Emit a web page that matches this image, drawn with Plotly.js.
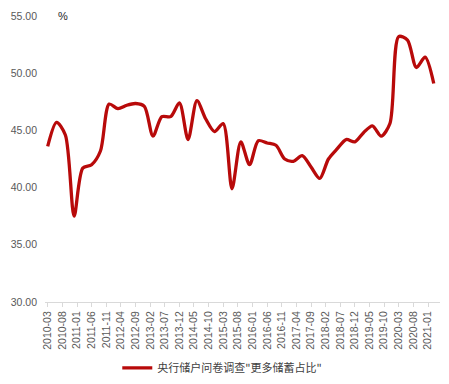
<!DOCTYPE html>
<html>
<head>
<meta charset="utf-8">
<script src="https://cdn.plot.ly/plotly-3.0.1.min.js"></script>
<style>html,body{margin:0;padding:0;background:#fff;}#chart{width:449px;height:384px;}</style>
</head>
<body>
<div id="chart"></div>
<script>
// Quarterly survey dates (end-of-quarter months)
const quarters = [
  "2010-03","2010-06","2010-09","2010-12",
  "2011-03","2011-06","2011-09","2011-12",
  "2012-03","2012-06","2012-09","2012-12",
  "2013-03","2013-06","2013-09","2013-12",
  "2014-03","2014-06","2014-09","2014-12",
  "2015-03","2015-06","2015-09","2015-12",
  "2016-03","2016-06","2016-09","2016-12",
  "2017-03","2017-06","2017-09","2017-12",
  "2018-03","2018-06","2018-09","2018-12",
  "2019-03","2019-06","2019-09","2019-12",
  "2020-03","2020-06","2020-09","2020-12",
  "2021-03"
];
// 央行储户问卷调查"更多储蓄占比" (%)
const savingsShare = [
  43.6, 45.7, 44.6, 37.5,
  41.7, 42.0, 43.2, 47.3,
  46.9, 47.2, 47.35, 47.1,
  44.5, 46.2, 46.2, 47.4,
  44.2, 47.6, 46.0, 44.9,
  45.6, 39.9, 44.0, 42.0,
  44.1, 43.9, 43.7, 42.5,
  42.3, 42.8, 41.8, 40.8,
  42.5, 43.4, 44.2, 44.0,
  44.8, 45.4, 44.5, 45.6,
  53.2, 52.9, 50.5, 51.4,
  49.1
];
// x-axis tick labels (every five months)
const tickLabels = [
  "2010-03","2010-08","2011-01","2011-06","2011-11","2012-04","2012-09",
  "2013-02","2013-07","2013-12","2014-05","2014-10","2015-03","2015-08",
  "2016-01","2016-06","2016-11","2017-04","2017-09","2018-02","2018-07",
  "2018-12","2019-05","2019-10","2020-03","2020-08","2021-01"
];
const seriesName = '央行储户问卷调查"更多储蓄占比"';

const trace = {
  x: quarters,
  y: savingsShare,
  type: 'scatter',
  mode: 'lines',
  name: seriesName,
  line: {color: '#B80A0A', width: 3.3, shape: 'spline', smoothing: 0.8}
};

const layout = {
  width: 449, height: 384,
  margin: {l: 45, r: 9, t: 16, b: 82, autoexpand: false},
  paper_bgcolor: '#ffffff', plot_bgcolor: '#ffffff',
  font: {family: 'Liberation Sans, Arial, sans-serif', color: '#595959', size: 11},
  showlegend: true,
  legend: {
    orientation: 'h', x: 0.183, xanchor: 'left',
    yref: 'container', y: 0.042, yanchor: 'middle',
    font: {family: 'Noto Sans CJK SC, sans-serif', size: 11, color: '#404040'},
    bgcolor: 'rgba(0,0,0,0)'
  },
  xaxis: {
    type: 'date',
    range: ['2010-02-01', '2021-05-05'],
    tickvals: tickLabels,
    ticktext: tickLabels,
    tickangle: -90,
    tickfont: {size: 10.5, color: '#595959'},
    showgrid: false, zeroline: false,
    showline: true, linecolor: '#d9d9d9', linewidth: 1,
    ticks: 'outside', ticklen: 4, tickcolor: '#d9d9d9'
  },
  yaxis: {
    range: [30, 55],
    tickvals: [30, 35, 40, 45, 50, 55],
    tickformat: '.2f',
    tickfont: {size: 10.5, color: '#595959'},
    showgrid: false, zeroline: false, showline: false,
    ticks: '', ticklen: 0, ticklabelstandoff: 7
  },
  annotations: [{
    text: '%', xref: 'paper', yref: 'paper', x: 0.045, y: 1.0,
    xanchor: 'center', yanchor: 'middle', showarrow: false,
    font: {size: 11, color: '#262626', family: 'Liberation Sans, Arial, sans-serif'}
  }]
};

Plotly.newPlot('chart', [trace], layout, {displayModeBar: false, staticPlot: true});
</script>
</body>
</html>
